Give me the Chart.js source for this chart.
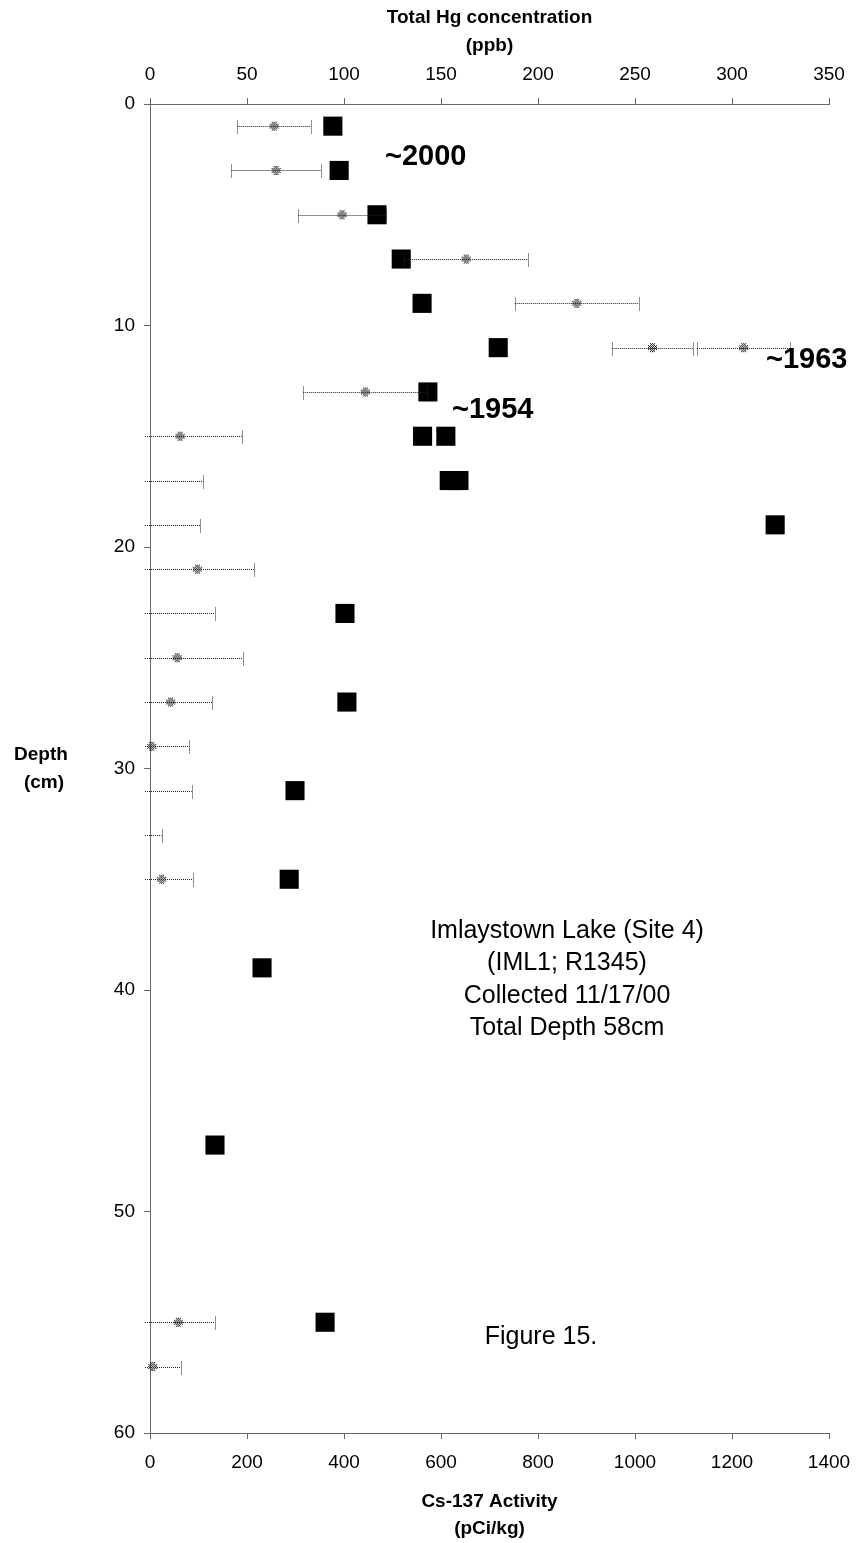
<!DOCTYPE html>
<html>
<head>
<meta charset="utf-8">
<script src="https://cdn.jsdelivr.net/npm/chart.js"></script>
<style>
  body { margin: 0; background: #fff; }
  #wrap { width: 858px; height: 1543px; }
</style>
</head>
<body>
<div id="wrap"><canvas id="coreChart" width="858" height="1543"></canvas></div>
<script>
// Cs-137 activity (pCi/kg) by depth (cm)
const csDepth = [1, 3, 5, 7, 9, 11, 13, 15, 15, 17, 17, 19, 23, 27, 31, 35, 39, 47, 55];
const csValue = [377, 390, 468, 518, 561, 718, 573, 562, 610, 617, 637, 1289, 402, 406, 299, 287, 231, 134, 361];

// Total Hg (ppb) by depth (cm), with +/- error
const hgDepth = [1, 3, 5, 7, 9, 11, 11, 13, 15, 17, 19, 21, 23, 25, 27, 29, 31, 33, 35, 55, 57];
const hgValue = [64, 65, 99, 163, 220, 259, 306, 111, 15.5, -8, -8, 24.4, -8, 14, 10.6, 0.9, -8, -8, 6, 14.6, 1.4];
const hgError = [19, 23, 22.5, 32, 32, 21, 24, 32, 32, 35.5, 34, 29, 41.5, 33.7, 21.5, 19.4, 29.5, 14, 16, 19, 14.4];

const csTicks = [0, 200, 400, 600, 800, 1000, 1200, 1400];
const hgTicks = [0, 50, 100, 150, 200, 250, 300, 350];
const depthTicks = [0, 10, 20, 30, 40, 50, 60];

const notes = [
    { text: "~2000", x: 385, y: 157 },
    { text: "~1954", x: 452, y: 410 },
    { text: "~1963", x: 766, y: 360 }
];
const siteLines = ["Imlaystown Lake (Site 4)", "(IML1; R1345)", "Collected 11/17/00", "Total Depth 58cm"];

// dotted, roughly round marker used for the Hg points
function hgMarker() {
    const c = document.createElement("canvas");
    c.width = 11; c.height = 11;
    const g = c.getContext("2d");
    g.fillStyle = "#111";
    for (let i = 0; i < 11; i++) {
        for (let j = 0; j < 11; j++) {
            const dx = i - 5, dy = j - 5;
            const inPlus = (Math.abs(dx) <= 2 && Math.abs(dy) <= 4) || (Math.abs(dx) <= 4 && Math.abs(dy) <= 2);
            if (inPlus && (i + j) % 2 === 0) g.fillRect(i, j, 1, 1);
        }
    }
    return c;
}

const FONT = "Arial, 'Liberation Sans', sans-serif";

const errorBars = {
    id: "errorBars",
    afterDatasetsDraw(chart) {
        const ctx = chart.ctx;
        const xs = chart.scales.x2, ys = chart.scales.y;
        const area = chart.chartArea;
        ctx.save();
        ctx.strokeStyle = "#222";
        ctx.lineWidth = 1;
        ctx.setLineDash([1, 1]);
        hgValue.forEach((v, i) => {
            const y = Math.round(ys.getPixelForValue(hgDepth[i])) + 0.5;
            let x1 = xs.getPixelForValue(v - hgError[i]);
            const x2 = xs.getPixelForValue(v + hgError[i]);
            const leftCap = x1 >= area.left - 5;
            x1 = Math.max(x1, area.left - 5);
            ctx.beginPath();
            ctx.moveTo(x1, y);
            ctx.lineTo(x2, y);
            ctx.stroke();
            const caps = leftCap ? [x1, x2] : [x2];
            caps.forEach(cx => {
                ctx.beginPath();
                ctx.moveTo(Math.round(cx) + 0.5, y - 6);
                ctx.lineTo(Math.round(cx) + 0.5, y + 7);
                ctx.stroke();
            });
        });
        ctx.restore();
    }
};

const labels = {
    id: "labels",
    afterDraw(chart) {
        const ctx = chart.ctx;
        ctx.save();
        ctx.fillStyle = "#000";
        ctx.textBaseline = "middle";

        ctx.font = "bold 29px " + FONT;
        ctx.textAlign = "left";
        notes.forEach(n => ctx.fillText(n.text, n.x, n.y));

        ctx.font = "25px " + FONT;
        ctx.textAlign = "center";
        siteLines.forEach((t, i) => ctx.fillText(t, 567, 931 + i * 32.5));
        ctx.fillText("Figure 15.", 541, 1337);

        ctx.font = "bold 19px " + FONT;
        ctx.fillText("Depth", 41, 755);
        ctx.fillText("(cm)", 44, 783);
        ctx.restore();
    }
};

const csPoints = csDepth.map((d, i) => ({ x: csValue[i], y: d }));
const hgPoints = hgDepth.map((d, i) => ({ x: hgValue[i], y: d }));

const tickFont = { family: FONT, size: 19 };
const titleFont = { family: FONT, size: 19, weight: "bold", lineHeight: 1.45 };
const plain = v => String(v);

new Chart(document.getElementById("coreChart"), {
    type: "scatter",
    data: {
        datasets: [
            {
                label: "Total Hg",
                data: hgPoints,
                xAxisID: "x2",
                yAxisID: "y",
                pointStyle: hgMarker(),
                order: 0,
                clip: { left: 5, top: 0, right: 0, bottom: 0 }
            },
            {
                label: "Cs-137",
                data: csPoints,
                xAxisID: "x",
                yAxisID: "y",
                pointStyle: "rect",
                pointRadius: 13.5,
                pointHoverRadius: 13.5,
                backgroundColor: "#000",
                borderColor: "#000",
                borderWidth: 0,
                order: 1
            }
        ]
    },
    options: {
        responsive: false,
        animation: false,
        layout: { padding: { left: 0, right: 29, top: 0, bottom: 0 } },
        plugins: { legend: { display: false }, tooltip: { enabled: false } },
        scales: {
            x: {
                type: "linear",
                position: "bottom",
                min: 0, max: 1400,
                afterFit: s => { s.height = 110; s.paddingLeft = 0; s.paddingRight = 0; },
                afterBuildTicks: s => { s.ticks = csTicks.map(v => ({ value: v })); },
                grid: { drawOnChartArea: false, tickLength: 6, color: "#666" },
                border: { color: "#666", width: 1 },
                ticks: { font: tickFont, color: "#000", padding: 12, maxRotation: 0, callback: plain },
                title: { display: true, text: ["Cs-137 Activity", "(pCi/kg)"], font: titleFont, color: "#000", padding: { top: 0, bottom: 0 } }
            },
            x2: {
                type: "linear",
                position: "top",
                min: 0, max: 350,
                afterFit: s => { s.height = 104; s.paddingLeft = 0; s.paddingRight = 0; },
                afterBuildTicks: s => { s.ticks = hgTicks.map(v => ({ value: v })); },
                grid: { drawOnChartArea: false, tickLength: 6, color: "#666" },
                border: { color: "#666", width: 1 },
                ticks: { font: tickFont, color: "#000", padding: 12, maxRotation: 0, callback: plain },
                title: { display: true, text: ["Total Hg concentration", "(ppb)"], font: titleFont, color: "#000", padding: { top: 4, bottom: 0 } }
            },
            y: {
                type: "linear",
                position: "left",
                reverse: true,
                min: 0, max: 60,
                afterFit: s => { s.width = 150; s.paddingTop = 0; s.paddingBottom = 0; },
                afterBuildTicks: s => { s.ticks = depthTicks.map(v => ({ value: v })); },
                grid: { drawOnChartArea: false, tickLength: 6, color: "#666" },
                border: { color: "#666", width: 1 },
                ticks: { font: tickFont, color: "#000", padding: 9, callback: plain }
            }
        }
    },
    plugins: [errorBars, labels]
});
</script>
</body>
</html>
